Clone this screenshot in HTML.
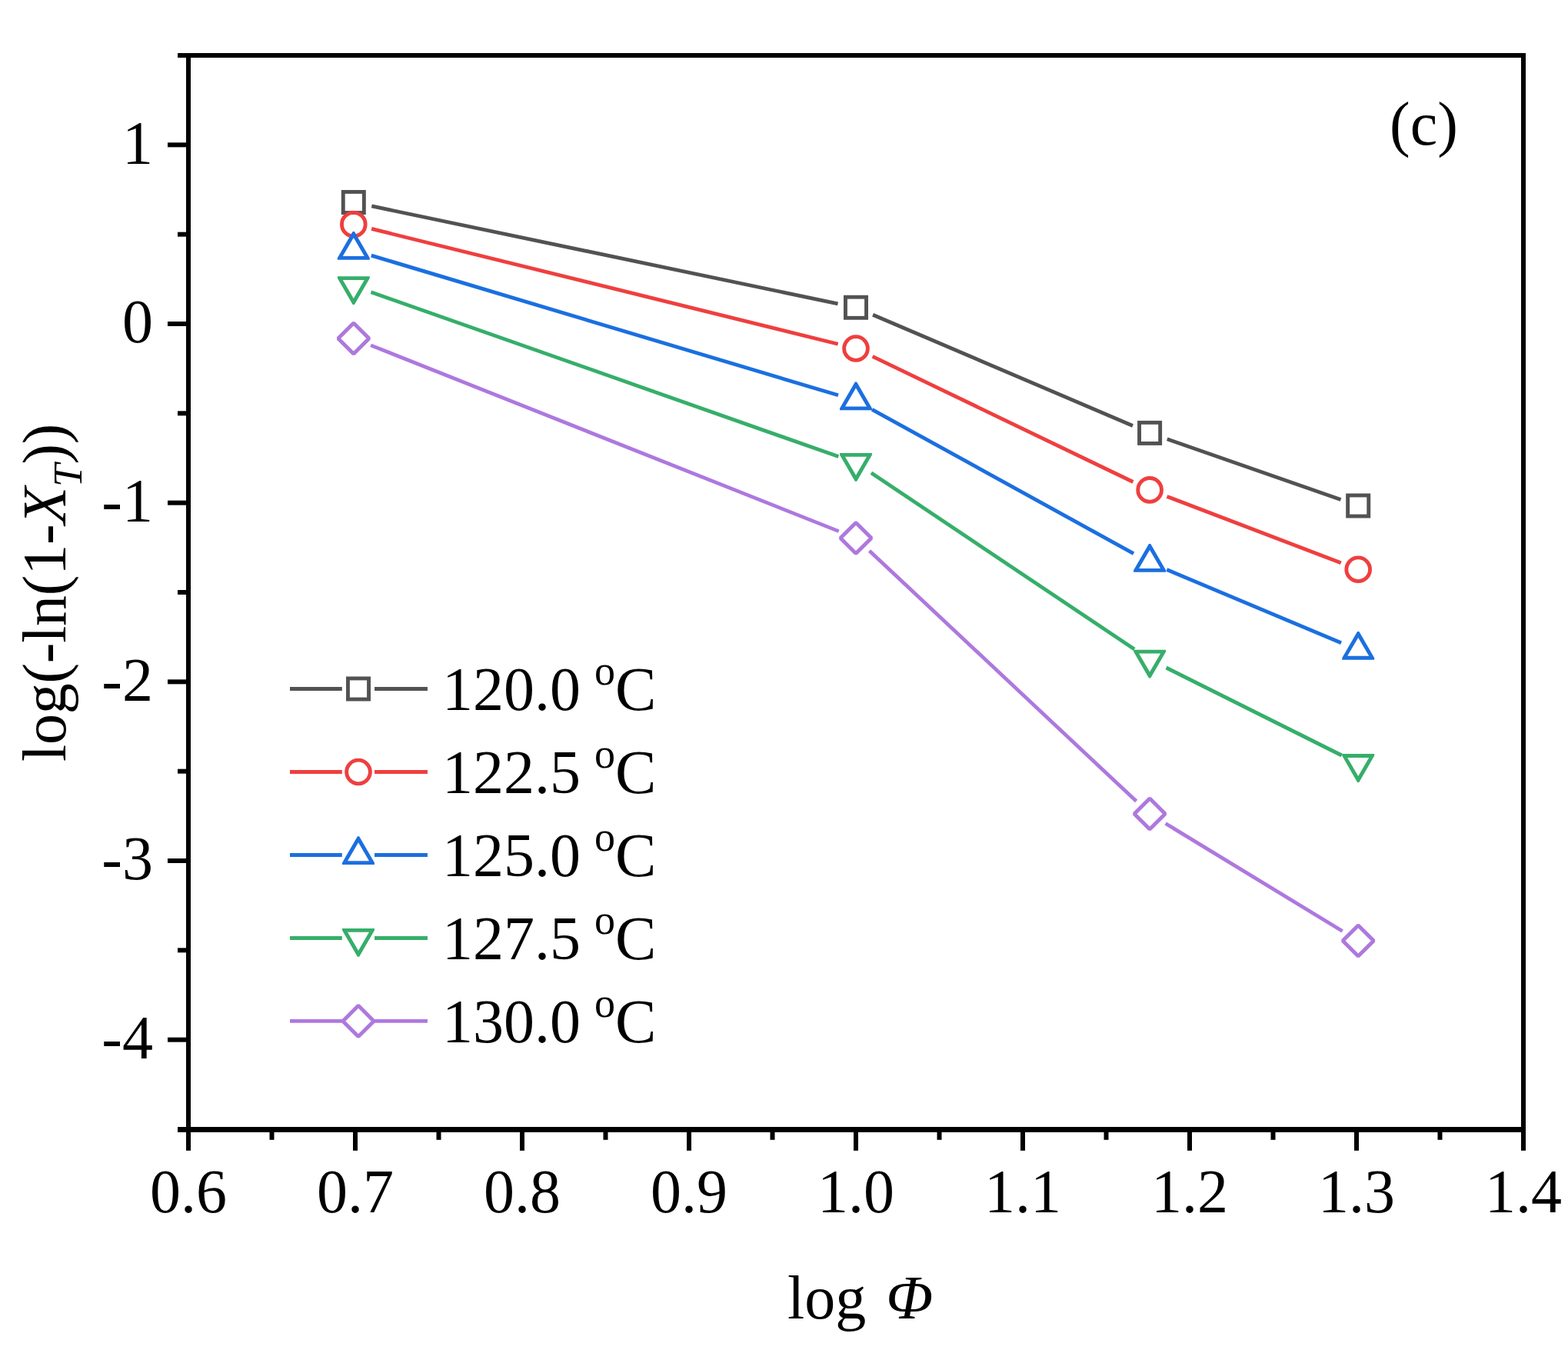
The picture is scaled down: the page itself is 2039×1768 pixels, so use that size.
<!DOCTYPE html><html><head><meta charset="utf-8"><style>html,body{margin:0;padding:0;background:#fff;}svg{display:block}text{font-family:"Liberation Serif","Times New Roman",serif;fill:#000}</style></head><body>
<svg width="2039" height="1768" viewBox="0 0 2039 1768">
<rect width="2039" height="1768" fill="#fff"/>
<line x1="483.29" y1="267.92" x2="1089.51" y2="394.83" stroke="#525252" stroke-width="4.8"/>
<line x1="1135.07" y1="409.17" x2="1473.03" y2="553.48" stroke="#525252" stroke-width="4.8"/>
<line x1="1517.76" y1="570.81" x2="1743.54" y2="649.59" stroke="#525252" stroke-width="4.8"/>
<line x1="483.10" y1="297.45" x2="1089.70" y2="447.25" stroke="#ef3f3f" stroke-width="4.8"/>
<line x1="1134.63" y1="463.41" x2="1473.47" y2="626.49" stroke="#ef3f3f" stroke-width="4.8"/>
<line x1="1517.53" y1="645.45" x2="1743.77" y2="731.70" stroke="#ef3f3f" stroke-width="4.8"/>
<line x1="482.79" y1="332.08" x2="1090.01" y2="513.82" stroke="#1b6fe0" stroke-width="4.8"/>
<line x1="1134.02" y1="532.28" x2="1474.08" y2="719.62" stroke="#1b6fe0" stroke-width="4.8"/>
<line x1="1517.23" y1="740.50" x2="1744.07" y2="835.80" stroke="#1b6fe0" stroke-width="4.8"/>
<line x1="482.44" y1="379.76" x2="1090.36" y2="593.54" stroke="#36ae6a" stroke-width="4.8"/>
<line x1="1132.94" y1="614.85" x2="1475.16" y2="843.95" stroke="#36ae6a" stroke-width="4.8"/>
<line x1="1516.57" y1="868.02" x2="1744.73" y2="981.98" stroke="#36ae6a" stroke-width="4.8"/>
<line x1="482.10" y1="448.86" x2="1090.70" y2="690.64" stroke="#ae78de" stroke-width="4.8"/>
<line x1="1130.50" y1="715.92" x2="1477.60" y2="1041.58" stroke="#ae78de" stroke-width="4.8"/>
<line x1="1515.60" y1="1070.48" x2="1745.70" y2="1210.52" stroke="#ae78de" stroke-width="4.8"/>
<rect x="446.25" y="249.45" width="27.10" height="27.10" fill="none" stroke="#525252" stroke-width="4.9" stroke-linejoin="miter"/>
<rect x="1099.45" y="386.20" width="27.10" height="27.10" fill="none" stroke="#525252" stroke-width="4.9" stroke-linejoin="miter"/>
<rect x="1481.55" y="549.35" width="27.10" height="27.10" fill="none" stroke="#525252" stroke-width="4.9" stroke-linejoin="miter"/>
<rect x="1752.65" y="643.95" width="27.10" height="27.10" fill="none" stroke="#525252" stroke-width="4.9" stroke-linejoin="miter"/>
<circle cx="459.80" cy="291.70" r="15.35" fill="none" stroke="#ef3f3f" stroke-width="4.9"/>
<circle cx="1113.00" cy="453.00" r="15.35" fill="none" stroke="#ef3f3f" stroke-width="4.9"/>
<circle cx="1495.10" cy="636.90" r="15.35" fill="none" stroke="#ef3f3f" stroke-width="4.9"/>
<circle cx="1766.20" cy="740.25" r="15.35" fill="none" stroke="#ef3f3f" stroke-width="4.9"/>
<path d="M458.65,301.00L460.95,301.00L480.75,335.28L480.75,337.80L438.85,337.80L438.85,335.28ZM459.80,309.00L473.80,332.90L445.80,332.90Z" fill="#1b6fe0" fill-rule="evenodd"/>
<path d="M1111.85,496.50L1114.15,496.50L1133.95,530.78L1133.95,533.30L1092.05,533.30L1092.05,530.78ZM1113.00,504.50L1127.00,528.40L1099.00,528.40Z" fill="#1b6fe0" fill-rule="evenodd"/>
<path d="M1493.95,707.00L1496.25,707.00L1516.05,741.28L1516.05,743.80L1474.15,743.80L1474.15,741.28ZM1495.10,715.00L1509.10,738.90L1481.10,738.90Z" fill="#1b6fe0" fill-rule="evenodd"/>
<path d="M1765.05,820.90L1767.35,820.90L1787.15,855.18L1787.15,857.70L1745.25,857.70L1745.25,855.18ZM1766.20,828.90L1780.20,852.80L1752.20,852.80Z" fill="#1b6fe0" fill-rule="evenodd"/>
<path d="M458.65,396.00L460.95,396.00L480.75,361.72L480.75,359.20L438.85,359.20L438.85,361.72ZM459.80,388.00L473.80,364.10L445.80,364.10Z" fill="#36ae6a" fill-rule="evenodd"/>
<path d="M1111.85,625.70L1114.15,625.70L1133.95,591.42L1133.95,588.90L1092.05,588.90L1092.05,591.42ZM1113.00,617.70L1127.00,593.80L1099.00,593.80Z" fill="#36ae6a" fill-rule="evenodd"/>
<path d="M1493.95,881.50L1496.25,881.50L1516.05,847.22L1516.05,844.70L1474.15,844.70L1474.15,847.22ZM1495.10,873.50L1509.10,849.60L1481.10,849.60Z" fill="#36ae6a" fill-rule="evenodd"/>
<path d="M1765.05,1016.90L1767.35,1016.90L1787.15,982.62L1787.15,980.10L1745.25,980.10L1745.25,982.62ZM1766.20,1008.90L1780.20,985.00L1752.20,985.00Z" fill="#36ae6a" fill-rule="evenodd"/>
<path d="M459.80,419.90L479.90,440.00L459.80,460.10L439.70,440.00Z" fill="none" stroke="#ae78de" stroke-width="4.9" stroke-linejoin="bevel"/>
<path d="M1113.00,679.40L1133.10,699.50L1113.00,719.60L1092.90,699.50Z" fill="none" stroke="#ae78de" stroke-width="4.9" stroke-linejoin="bevel"/>
<path d="M1495.10,1037.90L1515.20,1058.00L1495.10,1078.10L1475.00,1058.00Z" fill="none" stroke="#ae78de" stroke-width="4.9" stroke-linejoin="bevel"/>
<path d="M1766.20,1202.90L1786.30,1223.00L1766.20,1243.10L1746.10,1223.00Z" fill="none" stroke="#ae78de" stroke-width="4.9" stroke-linejoin="bevel"/>
<rect x="245" y="72" width="1736" height="1396" fill="none" stroke="#000" stroke-width="6" stroke-linejoin="miter" stroke-linecap="square"/>
<rect x="231" y="1465" width="1753" height="6.9" fill="#000"/>
<line x1="245.00" y1="1468" x2="245.00" y2="1495.8" stroke="#000" stroke-width="6"/>
<text x="245.00" y="1575.5" font-size="80" text-anchor="middle">0.6</text>
<line x1="462.00" y1="1468" x2="462.00" y2="1495.8" stroke="#000" stroke-width="6"/>
<text x="462.00" y="1575.5" font-size="80" text-anchor="middle">0.7</text>
<line x1="679.00" y1="1468" x2="679.00" y2="1495.8" stroke="#000" stroke-width="6"/>
<text x="679.00" y="1575.5" font-size="80" text-anchor="middle">0.8</text>
<line x1="896.00" y1="1468" x2="896.00" y2="1495.8" stroke="#000" stroke-width="6"/>
<text x="896.00" y="1575.5" font-size="80" text-anchor="middle">0.9</text>
<line x1="1113.00" y1="1468" x2="1113.00" y2="1495.8" stroke="#000" stroke-width="6"/>
<text x="1113.00" y="1575.5" font-size="80" text-anchor="middle">1.0</text>
<line x1="1330.00" y1="1468" x2="1330.00" y2="1495.8" stroke="#000" stroke-width="6"/>
<text x="1330.00" y="1575.5" font-size="80" text-anchor="middle">1.1</text>
<line x1="1547.00" y1="1468" x2="1547.00" y2="1495.8" stroke="#000" stroke-width="6"/>
<text x="1547.00" y="1575.5" font-size="80" text-anchor="middle">1.2</text>
<line x1="1764.00" y1="1468" x2="1764.00" y2="1495.8" stroke="#000" stroke-width="6"/>
<text x="1764.00" y="1575.5" font-size="80" text-anchor="middle">1.3</text>
<line x1="1981.00" y1="1468" x2="1981.00" y2="1495.8" stroke="#000" stroke-width="6"/>
<text x="1981.00" y="1575.5" font-size="80" text-anchor="middle">1.4</text>
<line x1="353.50" y1="1468" x2="353.50" y2="1481.8" stroke="#000" stroke-width="6"/>
<line x1="570.50" y1="1468" x2="570.50" y2="1481.8" stroke="#000" stroke-width="6"/>
<line x1="787.50" y1="1468" x2="787.50" y2="1481.8" stroke="#000" stroke-width="6"/>
<line x1="1004.50" y1="1468" x2="1004.50" y2="1481.8" stroke="#000" stroke-width="6"/>
<line x1="1221.50" y1="1468" x2="1221.50" y2="1481.8" stroke="#000" stroke-width="6"/>
<line x1="1438.50" y1="1468" x2="1438.50" y2="1481.8" stroke="#000" stroke-width="6"/>
<line x1="1655.50" y1="1468" x2="1655.50" y2="1481.8" stroke="#000" stroke-width="6"/>
<line x1="1872.50" y1="1468" x2="1872.50" y2="1481.8" stroke="#000" stroke-width="6"/>
<line x1="245" y1="188.33" x2="218" y2="188.33" stroke="#000" stroke-width="6"/>
<text x="199" y="212.63" font-size="80" text-anchor="end">1</text>
<line x1="245" y1="421.00" x2="218" y2="421.00" stroke="#000" stroke-width="6"/>
<text x="199" y="445.30" font-size="80" text-anchor="end">0</text>
<line x1="245" y1="653.67" x2="218" y2="653.67" stroke="#000" stroke-width="6"/>
<text x="199" y="677.97" font-size="80" text-anchor="end">-1</text>
<line x1="245" y1="886.33" x2="218" y2="886.33" stroke="#000" stroke-width="6"/>
<text x="199" y="910.63" font-size="80" text-anchor="end">-2</text>
<line x1="245" y1="1119.00" x2="218" y2="1119.00" stroke="#000" stroke-width="6"/>
<text x="199" y="1143.30" font-size="80" text-anchor="end">-3</text>
<line x1="245" y1="1351.67" x2="218" y2="1351.67" stroke="#000" stroke-width="6"/>
<text x="199" y="1375.97" font-size="80" text-anchor="end">-4</text>
<line x1="245" y1="72.00" x2="231" y2="72.00" stroke="#000" stroke-width="6"/>
<line x1="245" y1="304.67" x2="231" y2="304.67" stroke="#000" stroke-width="6"/>
<line x1="245" y1="537.33" x2="231" y2="537.33" stroke="#000" stroke-width="6"/>
<line x1="245" y1="770.00" x2="231" y2="770.00" stroke="#000" stroke-width="6"/>
<line x1="245" y1="1002.67" x2="231" y2="1002.67" stroke="#000" stroke-width="6"/>
<line x1="245" y1="1235.33" x2="231" y2="1235.33" stroke="#000" stroke-width="6"/>
<line x1="245" y1="1468.00" x2="231" y2="1468.00" stroke="#000" stroke-width="6"/>
<text x="1024" y="1714" font-size="80">log <tspan font-style="italic" dx="6">&#934;</tspan></text>
<text transform="translate(85.3,990.0) rotate(-90)" font-size="80" letter-spacing="-0.27">log(-ln(1-<tspan font-style="italic">X</tspan><tspan font-style="italic" font-size="53.6" dy="21">T</tspan><tspan dy="-21">))</tspan></text>
<text x="1807" y="188" font-size="80">(c)</text>
<line x1="377" y1="895.5" x2="444.8" y2="895.5" stroke="#525252" stroke-width="4.8"/>
<line x1="487.06" y1="895.5" x2="555.95" y2="895.5" stroke="#525252" stroke-width="4.8"/>
<rect x="452.45" y="881.95" width="27.10" height="27.10" fill="none" stroke="#525252" stroke-width="4.9" stroke-linejoin="miter"/>
<text x="575" y="922.80" font-size="80">120.0 <tspan font-size="54" dx="-2" dy="-32.4">o</tspan><tspan dy="32.4">C</tspan></text>
<line x1="377" y1="1003.5" x2="444.8" y2="1003.5" stroke="#ef3f3f" stroke-width="4.8"/>
<line x1="487.06" y1="1003.5" x2="555.95" y2="1003.5" stroke="#ef3f3f" stroke-width="4.8"/>
<circle cx="466.00" cy="1003.50" r="15.35" fill="none" stroke="#ef3f3f" stroke-width="4.9"/>
<text x="575" y="1030.80" font-size="80">122.5 <tspan font-size="54" dx="-2" dy="-32.4">o</tspan><tspan dy="32.4">C</tspan></text>
<line x1="377" y1="1111.5" x2="444.8" y2="1111.5" stroke="#1b6fe0" stroke-width="4.8"/>
<line x1="487.06" y1="1111.5" x2="555.95" y2="1111.5" stroke="#1b6fe0" stroke-width="4.8"/>
<path d="M464.85,1087.30L467.15,1087.30L486.95,1121.58L486.95,1124.10L445.05,1124.10L445.05,1121.58ZM466.00,1095.30L480.00,1119.20L452.00,1119.20Z" fill="#1b6fe0" fill-rule="evenodd"/>
<text x="575" y="1138.80" font-size="80">125.0 <tspan font-size="54" dx="-2" dy="-32.4">o</tspan><tspan dy="32.4">C</tspan></text>
<line x1="377" y1="1219.5" x2="444.8" y2="1219.5" stroke="#36ae6a" stroke-width="4.8"/>
<line x1="487.06" y1="1219.5" x2="555.95" y2="1219.5" stroke="#36ae6a" stroke-width="4.8"/>
<path d="M464.85,1243.70L467.15,1243.70L486.95,1209.42L486.95,1206.90L445.05,1206.90L445.05,1209.42ZM466.00,1235.70L480.00,1211.80L452.00,1211.80Z" fill="#36ae6a" fill-rule="evenodd"/>
<text x="575" y="1246.80" font-size="80">127.5 <tspan font-size="54" dx="-2" dy="-32.4">o</tspan><tspan dy="32.4">C</tspan></text>
<line x1="377" y1="1327.4" x2="444.8" y2="1327.4" stroke="#ae78de" stroke-width="4.8"/>
<line x1="487.06" y1="1327.4" x2="555.95" y2="1327.4" stroke="#ae78de" stroke-width="4.8"/>
<path d="M466.00,1307.30L486.10,1327.40L466.00,1347.50L445.90,1327.40Z" fill="none" stroke="#ae78de" stroke-width="4.9" stroke-linejoin="bevel"/>
<text x="575" y="1354.70" font-size="80">130.0 <tspan font-size="54" dx="-2" dy="-32.4">o</tspan><tspan dy="32.4">C</tspan></text>
</svg></body></html>
